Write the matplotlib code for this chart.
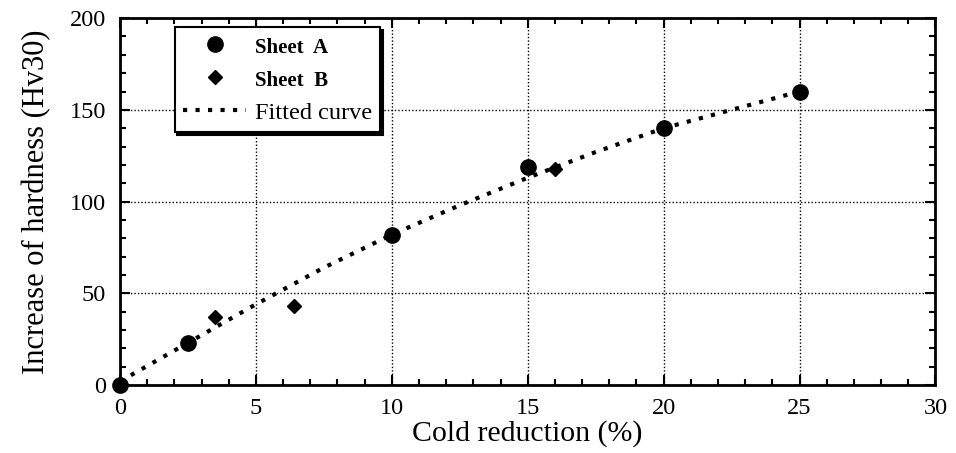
import numpy as np
import matplotlib.pyplot as plt
from matplotlib.ticker import MultipleLocator

plt.rcParams['font.family'] = ['Liberation Serif', 'DejaVu Serif']

# data
sheet_a_x = [0, 2.5, 10, 15, 20, 25]
sheet_a_y = [0, 23, 82, 119, 140, 160]
sheet_b_x = [3.5, 6.4, 16]
sheet_b_y = [37, 43, 118]
fit_x = [0, 2.5, 5, 7.5, 10, 12.5, 15, 17.5, 20, 22.5, 25]
fit_y = [2, 23, 44, 64, 82, 98, 113, 127, 140, 150, 160]

fig = plt.figure(figsize=(9.56, 4.53), dpi=100)
ax = fig.add_axes([0.1255, 0.150, 0.853, 0.810])

ax.plot(fit_x, fit_y, color='black', lw=3, linestyle=(0, (1, 2)),
        dash_capstyle='butt', label='Fitted curve', zorder=2)
ax.plot(sheet_a_x, sheet_a_y, 'o', color='black', ms=11, label='Sheet  A',
        clip_on=False, zorder=3)
ax.plot(sheet_b_x, sheet_b_y, 'D', color='black', ms=7.5, label='Sheet  B',
        zorder=3)

ax.set_xlim(0, 30)
ax.set_ylim(0, 200)
ax.xaxis.set_major_locator(MultipleLocator(5))
ax.xaxis.set_minor_locator(MultipleLocator(1))
ax.yaxis.set_major_locator(MultipleLocator(50))
ax.yaxis.set_minor_locator(MultipleLocator(10))
ax.tick_params(which='both', direction='in', top=True, right=True,
               labelsize=17.5, width=1.5, color='black')
ax.tick_params(which='major', length=7)
ax.tick_params(which='minor', length=4)
ax.tick_params(axis='x', which='major', pad=9)
ax.tick_params(axis='y', which='major', pad=10)
for s in ax.spines.values():
    s.set_linewidth(2)

ax.grid(True, which='major', color='black', linestyle=(0, (1, 1.5)), lw=1)

ax.set_xlabel('Cold reduction (%)', fontsize=21.5, labelpad=1)
ax.set_ylabel('Increase of hardness (Hv30)', fontsize=22, labelpad=13)

h, l = ax.get_legend_handles_labels()
order = [1, 2, 0]
leg = ax.legend([h[i] for i in order], [l[i] for i in order],
                loc='upper left', bbox_to_anchor=(0.067, 0.975),
                frameon=True, fancybox=False, shadow={'color': 'black', 'alpha': 1},
                edgecolor='black', framealpha=1, handlelength=2.6,
                handletextpad=0.35, borderpad=0.35, labelspacing=0.45,
                borderaxespad=0, fontsize=17.5)
leg.get_frame().set_linewidth(1.5)
for t in leg.get_texts()[:2]:
    t.set_fontsize(15)
    t.set_fontweight('bold')

fig.savefig('out.png', dpi=100)
